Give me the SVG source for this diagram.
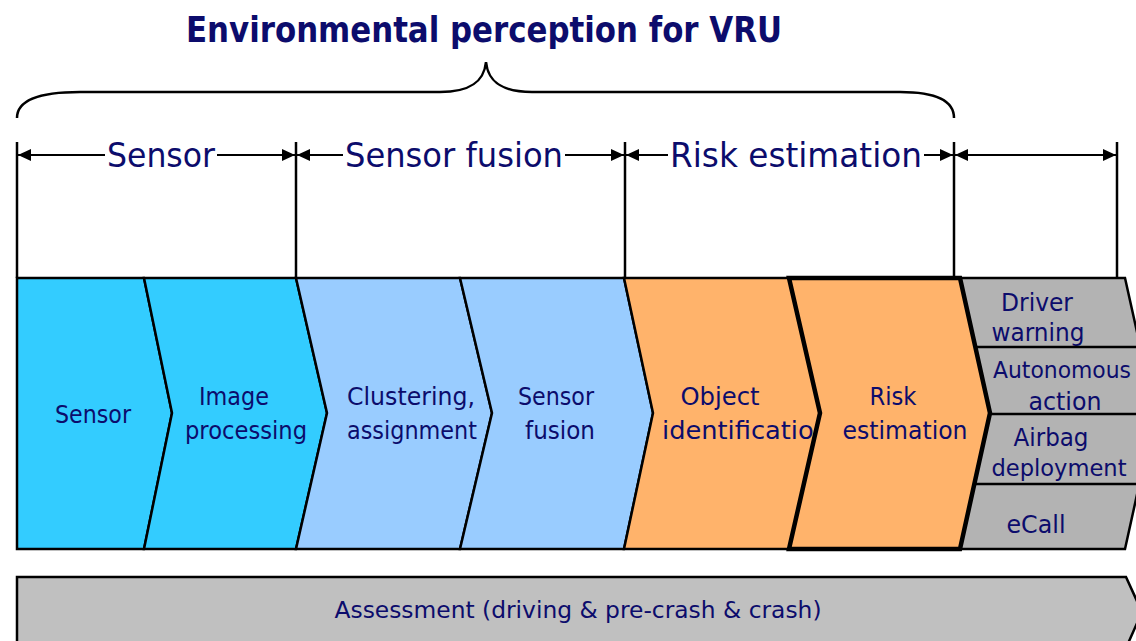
<svg xmlns="http://www.w3.org/2000/svg" width="1136" height="641" viewBox="0 0 1136 641">
<style>
.t{font-family:"DejaVu Sans","Liberation Sans",sans-serif;fill:#0c0c6c;text-anchor:middle}
.n{font-size:25px}
.s{font-size:23px}
.d{font-size:34px}
.ln{stroke:#000;stroke-width:2.5;fill:none}
.ch{stroke:#000;stroke-width:2.5;stroke-linejoin:miter}
.cy{fill:#33ccff}.lb{fill:#99ccff}.or{fill:#ffb36b}.gr{fill:#b3b3b3}
</style>
<defs>
<marker id="ah" viewBox="0 0 13 12" refX="13" refY="6" markerWidth="13" markerHeight="12" markerUnits="userSpaceOnUse" orient="auto-start-reverse">
<path d="M0,0 L13,6 L0,12 z" fill="#000"/>
</marker>
</defs>
<rect width="1136" height="641" fill="#fff"/>
<g id="title"><text class="t" x="484" y="42" font-size="36" font-weight="bold" textLength="596" lengthAdjust="spacingAndGlyphs">Environmental perception for VRU</text></g>
<g id="connectors">
<path class="ln" d="M17,118 C17,100 40,92 80,92 L440,92 C470,92 484,82 486,62 C488,82 502,92 532,92 L900,92 C935,92 954,100 954,118"/>
<line class="ln" x1="17" y1="142" x2="17" y2="278"/>
<line class="ln" x1="296" y1="142" x2="296" y2="278"/>
<line class="ln" x1="625" y1="142" x2="625" y2="278"/>
<line class="ln" x1="954" y1="142" x2="954" y2="278"/>
<line class="ln" x1="1117" y1="142" x2="1117" y2="278"/>
<g stroke="#000" stroke-width="2">
<line x1="105" y1="155" x2="18" y2="155" marker-end="url(#ah)"/>
<line x1="217" y1="155" x2="295" y2="155" marker-end="url(#ah)"/>
<line x1="343" y1="155" x2="297" y2="155" marker-end="url(#ah)"/>
<line x1="565" y1="155" x2="624" y2="155" marker-end="url(#ah)"/>
<line x1="668" y1="155" x2="626" y2="155" marker-end="url(#ah)"/>
<line x1="924" y1="155" x2="953" y2="155" marker-end="url(#ah)"/>
<line x1="955" y1="155" x2="1116" y2="155" marker-start="url(#ah)" marker-end="url(#ah)"/>
</g>
</g>
<g id="dim-labels">
<text class="t d" x="161" y="167" textLength="108" lengthAdjust="spacingAndGlyphs">Sensor</text>
<text class="t d" x="454" y="167" textLength="218" lengthAdjust="spacingAndGlyphs">Sensor fusion</text>
<text class="t d" x="796" y="167" textLength="252" lengthAdjust="spacingAndGlyphs">Risk estimation</text>
</g>
<g id="outputs">
<path class="ch gr" d="M960,278 L1125,278 L1155,413 L1125,549 L960,549 L990,413 Z"/>
<text class="t n" x="1037" y="311" textLength="72" lengthAdjust="spacingAndGlyphs">Driver</text>
<text class="t n" x="1038" y="341" textLength="93" lengthAdjust="spacingAndGlyphs">warning</text>
<line class="ln" x1="975" y1="347" x2="1150" y2="347"/>
<text class="t s" x="1062" y="378" textLength="138" lengthAdjust="spacingAndGlyphs">Autonomous</text>
<text class="t n" x="1065" y="410" textLength="73" lengthAdjust="spacingAndGlyphs">action</text>
<line class="ln" x1="990" y1="414" x2="1150" y2="414"/>
<text class="t n" x="1051" y="446" textLength="75" lengthAdjust="spacingAndGlyphs">Airbag</text>
<text class="t s" x="1059" y="476" textLength="135" lengthAdjust="spacingAndGlyphs">deployment</text>
<line class="ln" x1="974" y1="484" x2="1150" y2="484"/>
<text class="t n" x="1036" y="533" textLength="59" lengthAdjust="spacingAndGlyphs">eCall</text>
</g>
<g id="sensor">
<path class="ch cy" d="M17,278 L144,278 L172,413 L144,549 L17,549 Z"/>
<text class="t n" x="93" y="423" textLength="76" lengthAdjust="spacingAndGlyphs">Sensor</text>
</g>
<g id="image-processing">
<path class="ch cy" d="M144,278 L296,278 L327,413 L296,549 L144,549 L172,413 Z"/>
<text class="t n" x="234" y="405" textLength="70" lengthAdjust="spacingAndGlyphs">Image</text>
<text class="t n" x="246" y="439" textLength="122" lengthAdjust="spacingAndGlyphs">processing</text>
</g>
<g id="clustering">
<path class="ch lb" d="M296,278 L460,278 L492,413 L460,549 L296,549 L327,413 Z"/>
<text class="t n" x="411" y="405" textLength="128" lengthAdjust="spacingAndGlyphs">Clustering,</text>
<text class="t n" x="412" y="439" textLength="130" lengthAdjust="spacingAndGlyphs">assignment</text>
</g>
<g id="sensor-fusion">
<path class="ch lb" d="M460,278 L624,278 L653,413 L624,549 L460,549 L492,413 Z"/>
<text class="t n" x="556" y="405" textLength="76" lengthAdjust="spacingAndGlyphs">Sensor</text>
<text class="t n" x="560" y="439" textLength="70" lengthAdjust="spacingAndGlyphs">fusion</text>
</g>
<g id="object-identification">
<path class="ch or" d="M624,278 L789,278 L820,413 L789,549 L624,549 L653,413 Z"/>
<text class="t n" x="720" y="405" textLength="79" lengthAdjust="spacingAndGlyphs">Object</text>
<text class="t n" x="746" y="439" textLength="168" lengthAdjust="spacingAndGlyphs">identification</text>
</g>
<g id="risk-estimation">
<path class="or" stroke="#000" stroke-width="4.5" stroke-linejoin="miter" d="M789,278 L960,278 L990,413 L960,549 L789,549 L820,413 Z"/>
<text class="t n" x="893" y="405" textLength="47" lengthAdjust="spacingAndGlyphs">Risk</text>
<text class="t n" x="905" y="439" textLength="125" lengthAdjust="spacingAndGlyphs">estimation</text>
</g>
<g id="assessment">
<path fill="#c0c0c0" stroke="#000" stroke-width="2.5" d="M17,577 L1126,577 L1142,612 L1126,648 L17,648 Z"/>
<text class="t" x="578" y="618" font-size="23" textLength="487" lengthAdjust="spacingAndGlyphs">Assessment (driving &amp; pre-crash &amp; crash)</text>
</g>
</svg>
